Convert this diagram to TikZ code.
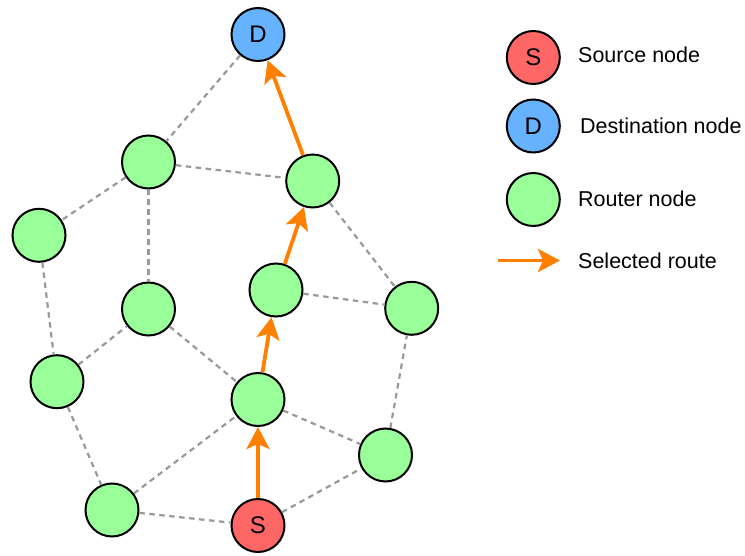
\documentclass[tikz,border=0pt]{standalone}
\usepackage{fontspec}
\setmainfont{Liberation Sans}
\usetikzlibrary{arrows.meta}
\definecolor{srcred}{HTML}{FF6666}
\definecolor{dstblue}{HTML}{66B2FF}
\definecolor{rtgreen}{HTML}{99FF99}
\definecolor{routeorange}{HTML}{FF8000}
\definecolor{linkgray}{HTML}{999999}
\tikzset{
  nd/.style={circle, draw=black, line width=2pt, minimum size=53pt, inner sep=0pt,
    font=\fontsize{24}{28}\selectfont},
  src/.style={nd, fill=srcred},
  dst/.style={nd, fill=dstblue},
  rt/.style={nd, fill=rtgreen},
  link/.style={draw=linkgray, line width=2.2pt, dash pattern=on 5.5pt off 4.5pt},
  route/.style={draw=routeorange, line width=3.8pt,
    -{Stealth[length=22pt, width=23pt, inset=5pt]}},
  lbl/.style={anchor=west, inner sep=0pt, font=\fontsize{21.5}{24}\selectfont}
}
\begin{document}
\begin{tikzpicture}[x=1pt, y=-1pt]
\useasboundingbox (0,0) rectangle (745,556);
% nodes
\node[dst] (D) at (258,34.5) {D};
\node[rt] (A) at (148.5,162) {};
\node[rt] (B) at (312.7,181) {};
\node[rt] (C) at (39,235.3) {};
\node[rt] (E) at (148.5,309) {};
\node[rt] (F) at (276,290) {};
\node[rt] (G) at (411.7,308.3) {};
\node[rt] (H) at (57,381.7) {};
\node[rt] (I) at (258,399.5) {};
\node[rt] (J) at (385.5,455) {};
\node[rt] (K) at (112,510) {};
\node[src] (S) at (258,525.5) {S};
% links
\draw[link] (D) -- (A);
\draw[link] (A) -- (B);
\draw[link] (A) -- (C);
\draw[link] (A) -- (E);
\draw[link] (C) -- (H);
\draw[link] (H) -- (E);
\draw[link] (H) -- (K);
\draw[link] (E) -- (I);
\draw[link] (K) -- (I);
\draw[link] (K) -- (S);
\draw[link] (S) -- (J);
\draw[link] (I) -- (J);
\draw[link] (J) -- (G);
\draw[link] (F) -- (G);
\draw[link] (B) -- (G);
% route
\draw[route] (S) -- (I);
\draw[route] (I) -- (F);
\draw[route] (F) -- (B);
\draw[route] (B) -- (D);
% legend
\node[src] (LS) at (533.3,57.5) {S};
\node[dst] (LD) at (533.3,126) {D};
\node[rt] (LR) at (533.3,199.5) {};
\coordinate (LA1) at (498,260.5);
\coordinate (LA2) at (560,260.5);
\draw[route] (LA1) -- (LA2);
\node[lbl] (TS) at (578,55) {Source node};
\node[lbl] (TD) at (580,126) {Destination node};
\node[lbl] (TR) at (578,199) {Router node};
\node[lbl] (TA) at (578,260.5) {Selected route};
\end{tikzpicture}
\end{document}
